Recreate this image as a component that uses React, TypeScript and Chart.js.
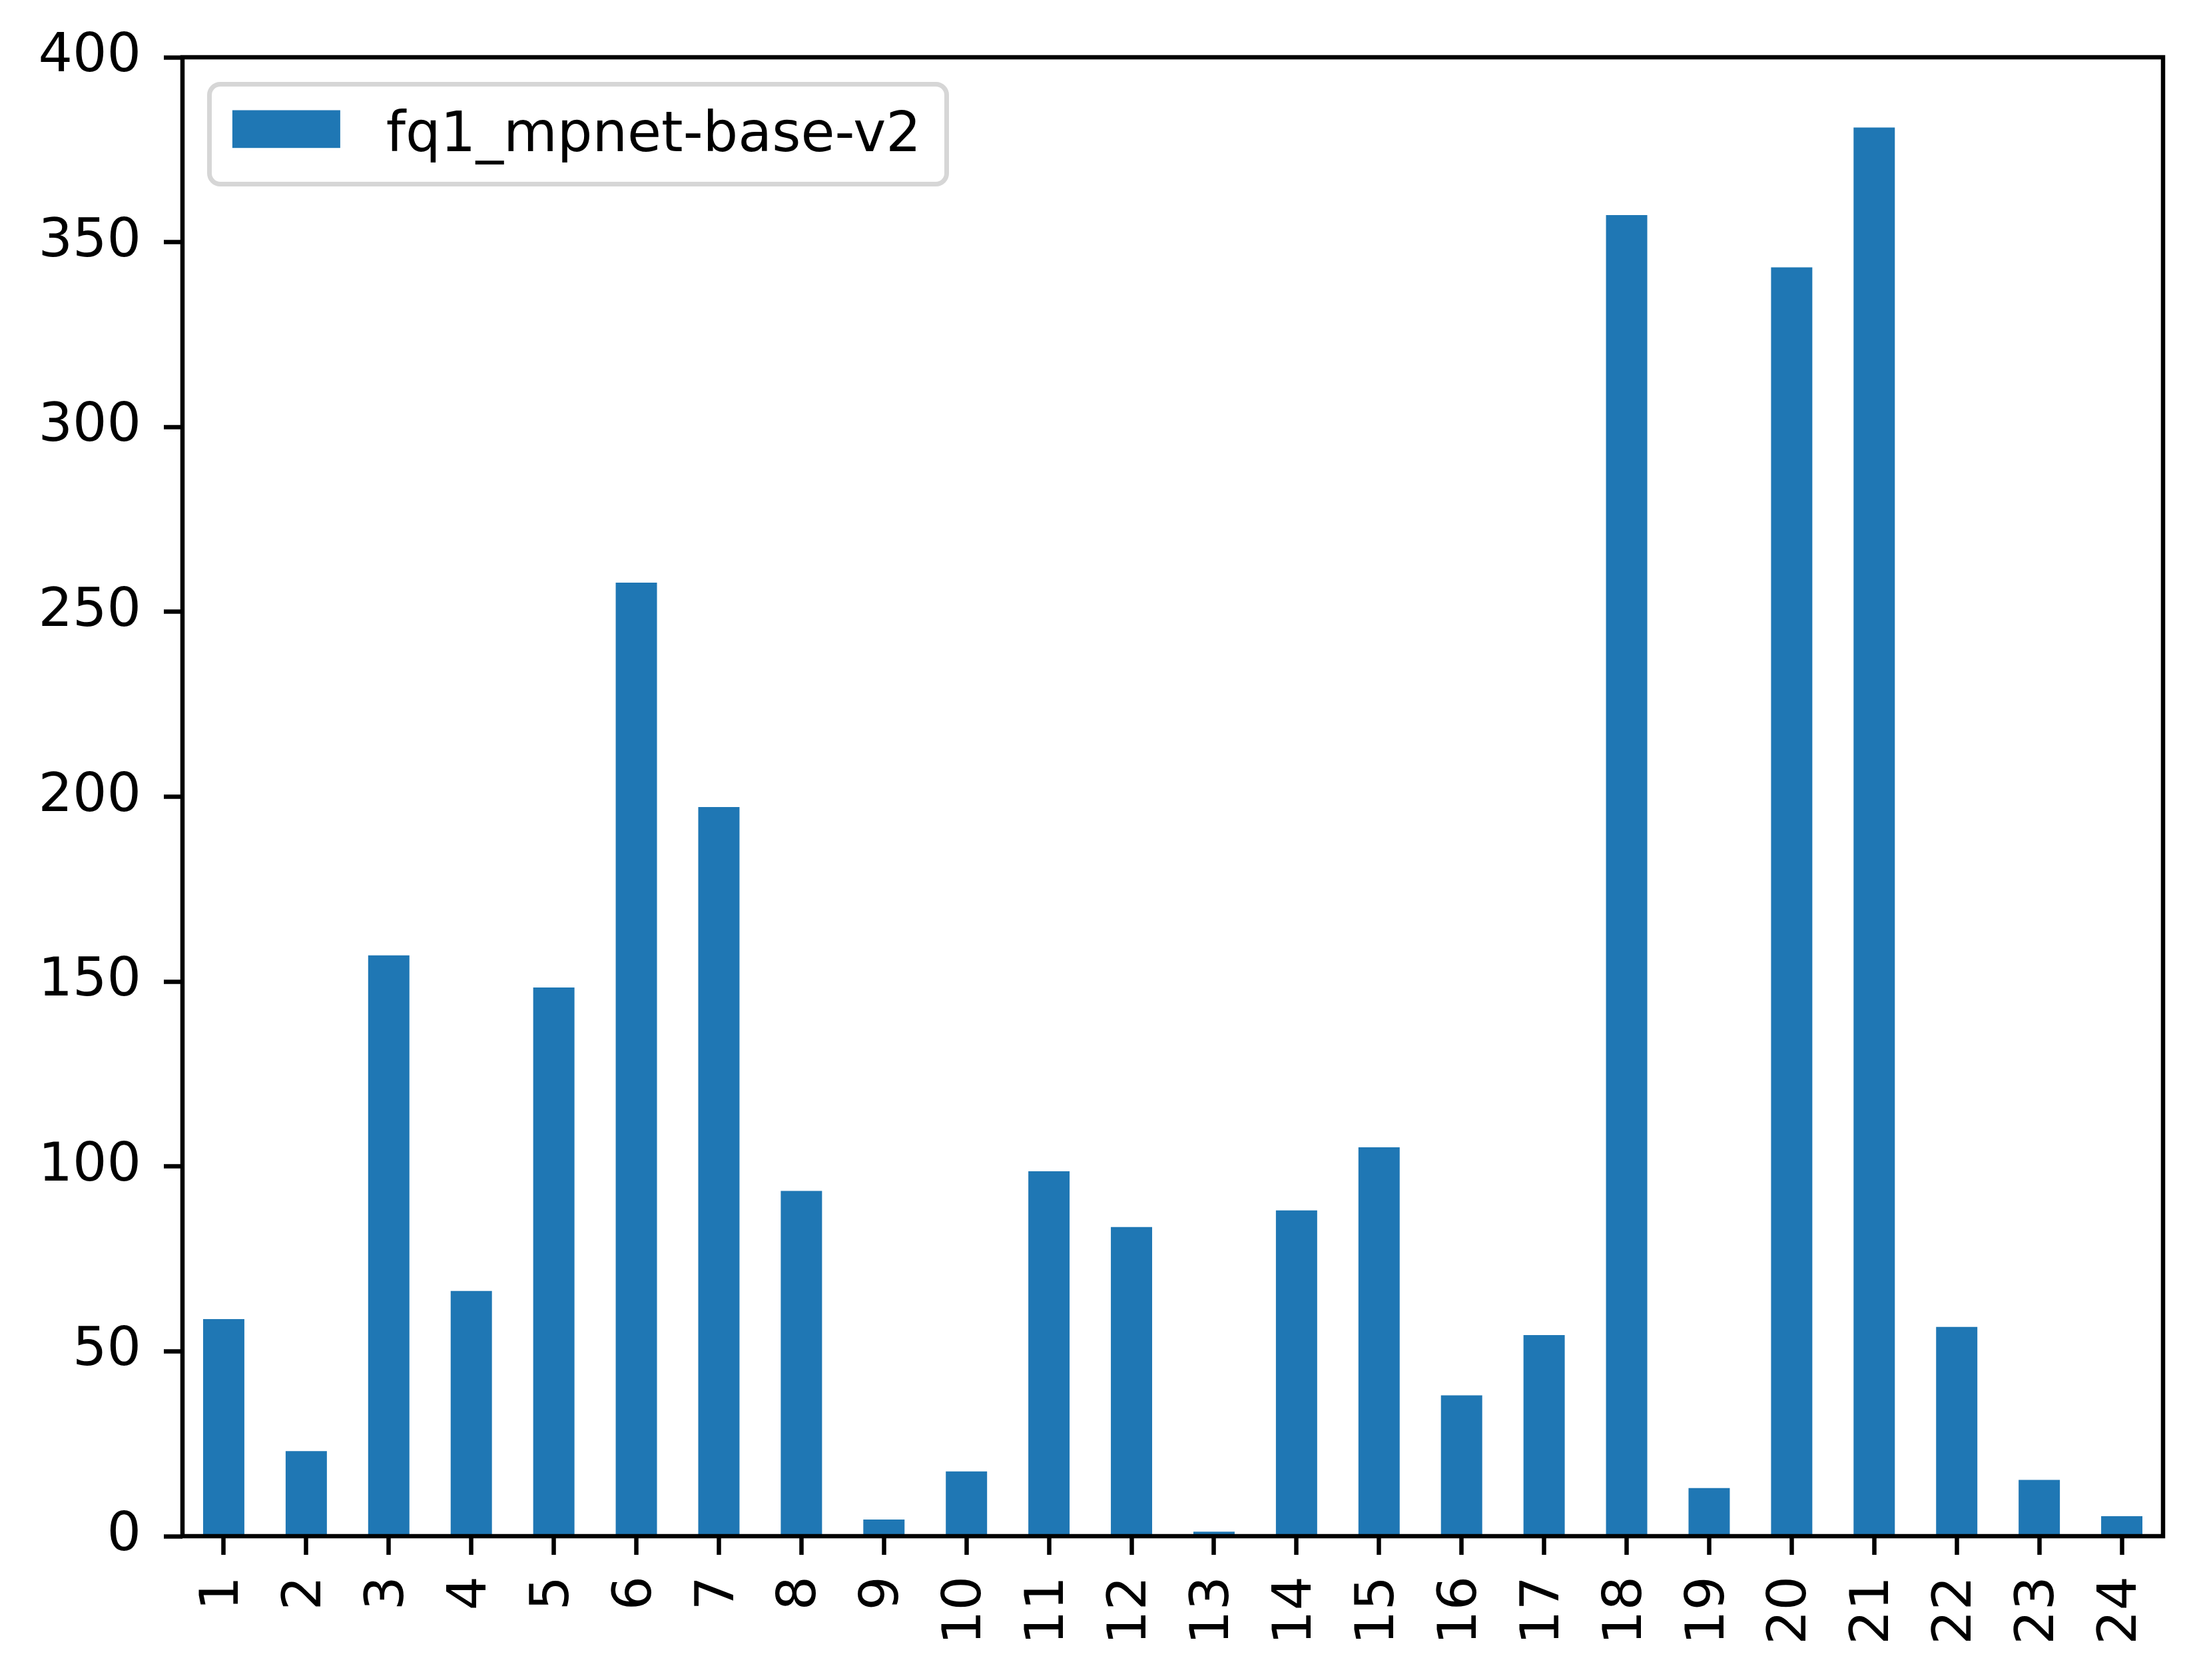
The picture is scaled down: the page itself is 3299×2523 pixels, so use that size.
import React, { useEffect, useRef } from "react";
import { Chart, registerables } from "chart.js";

Chart.register(...registerables);

const categories = ["1", "2", "3", "4", "5", "6", "7", "8", "9", "10", "11", "12", "13", "14", "15", "16", "17", "18", "19", "20", "21", "22", "23", "24"];
const seriesLabel = "fq1_mpnet-base-v2";
const seriesValues = [58.7, 23.0, 157.1, 66.3, 148.4, 257.9, 197.2, 93.4, 4.5, 17.5, 98.7, 83.6, 1.2, 88.1, 105.2, 38.1, 54.4, 357.3, 13.0, 343.2, 381.0, 56.6, 15.2, 5.4];
const yMin = 0;
const yMax = 400;
const yStep = 50;

const W = 3299;
const H = 2523;
const FONT = "DejaVu Sans";
const FS = 81;
const LEG_FS = 83;
const BAR_COLOR = "#1f77b4";

const framePlugin = {
  id: "frame",
  afterDatasetsDraw(chart: any) {
    const { ctx, chartArea } = chart;
    ctx.save();
    ctx.strokeStyle = "#000";
    ctx.lineWidth = 6.5;
    ctx.lineJoin = "miter";
    ctx.strokeRect(chartArea.left, chartArea.top, chartArea.right - chartArea.left, chartArea.bottom - chartArea.top);
    ctx.restore();
  },
};

const legendPlugin = {
  id: "mplLegend",
  afterDraw(chart: any) {
    const { ctx, chartArea } = chart;
    const ds = chart.data.datasets[0];
    ctx.save();
    ctx.font = `${LEG_FS}px "${FONT}"`;
    const textW = ctx.measureText(ds.label).width;
    const em = FS;
    const x0 = chartArea.left + 0.5 * em;
    const y0 = chartArea.top + 0.5 * em;
    const pad = 0.4 * em;
    const handleW = 2 * em;
    const handleH = 0.7 * em;
    const gap = 0.8 * em;
    const boxW = pad + handleW + gap + textW + pad + 12;
    const boxH = 150;
    const r = 0.2 * em;
    ctx.beginPath();
    ctx.moveTo(x0 + r, y0);
    ctx.lineTo(x0 + boxW - r, y0);
    ctx.arcTo(x0 + boxW, y0, x0 + boxW, y0 + r, r);
    ctx.lineTo(x0 + boxW, y0 + boxH - r);
    ctx.arcTo(x0 + boxW, y0 + boxH, x0 + boxW - r, y0 + boxH, r);
    ctx.lineTo(x0 + r, y0 + boxH);
    ctx.arcTo(x0, y0 + boxH, x0, y0 + boxH - r, r);
    ctx.lineTo(x0, y0 + r);
    ctx.arcTo(x0, y0, x0 + r, y0, r);
    ctx.closePath();
    ctx.fillStyle = "rgba(255,255,255,0.8)";
    ctx.fill();
    ctx.lineWidth = 7;
    ctx.strokeStyle = "#d6d6d6";
    ctx.stroke();
    const hx = x0 + pad + 2;
    const hy = y0 + 39;
    ctx.fillStyle = ds.backgroundColor;
    ctx.fillRect(hx, hy, handleW, handleH);
    ctx.fillStyle = "#000";
    ctx.textBaseline = "alphabetic";
    ctx.textAlign = "left";
    ctx.fillText(ds.label, hx + handleW + gap + 4, y0 + 100);
    ctx.restore();
  },
};

export default function App() {
  const ref = useRef<HTMLCanvasElement | null>(null);

  useEffect(() => {
    document.body.style.margin = "0";
    document.body.style.overflow = "hidden";
    const canvas = ref.current;
    if (!canvas) return;
    const chart = new Chart(canvas, {
      type: "bar",
      data: {
        labels: categories,
        datasets: [
          {
            label: seriesLabel,
            data: seriesValues,
            backgroundColor: BAR_COLOR,
            borderWidth: 0,
            barPercentage: 0.5,
            categoryPercentage: 1.0,
          },
        ],
      },
      options: {
        animation: false,
        responsive: false,
        devicePixelRatio: 1,
        layout: { padding: { top: 86, right: 51, left: 0, bottom: 0 } },
        plugins: {
          legend: { display: false },
          tooltip: { enabled: false },
          title: { display: false },
        },
        scales: {
          x: {
            type: "category",
            offset: true,
            border: { display: false },
            grid: {
              display: true,
              offset: false,
              drawOnChartArea: false,
              drawTicks: true,
              tickLength: 28,
              tickWidth: 6.5,
              tickColor: "#000",
            },
            ticks: {
              autoSkip: false,
              minRotation: 90,
              maxRotation: 90,
              padding: 32,
              color: "#000",
              font: { family: FONT, size: FS },
            },
            afterFit: (scale: any) => {
              scale.height = 216;
              scale.paddingLeft = 0;
              scale.paddingRight = 0;
            },
          },
          y: {
            min: yMin,
            max: yMax,
            border: { display: false },
            grid: {
              display: true,
              drawOnChartArea: false,
              drawTicks: true,
              tickLength: 28,
              tickWidth: 6.5,
              tickColor: "#000",
            },
            ticks: {
              stepSize: yStep,
              padding: 34,
              color: "#000",
              font: { family: FONT, size: FS },
            },
            afterFit: (scale: any) => {
              scale.width = 274;
              scale.paddingTop = 0;
              scale.paddingBottom = 0;
            },
          },
        },
      },
      plugins: [framePlugin, legendPlugin],
    });
    return () => chart.destroy();
  }, []);

  return (
    <div style={{ width: W, height: H, background: "#fff" }}>
      <canvas ref={ref} width={W} height={H} style={{ display: "block", width: W, height: H }} />
    </div>
  );
}
